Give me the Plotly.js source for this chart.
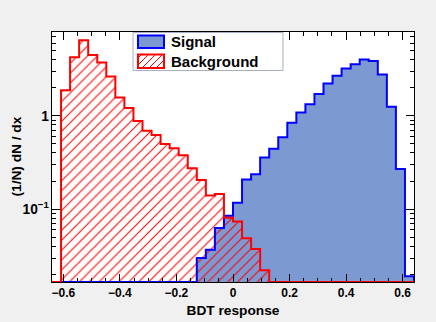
<!DOCTYPE html>
<html>
<head>
<meta charset="utf-8">
<script src="https://cdn.plot.ly/plotly-3.0.1.min.js"></script>
<style>
  html, body { margin: 0; padding: 0; background: #f0f0f0; }
  #plot { width: 436px; height: 322px; }
</style>
</head>
<body>
<div id="plot"></div>
<script>
// histogram binning of the BDT response (40 bins)
let binStart = -0.64;
let binWidth = 0.032;
let nBins = 40;

// normalised bin contents (1/N) dN/dx
let signalValues = [
    0, 0, 0, 0, 0, 0, 0, 0, 0, 0, 0, 0, 0, 0, 0, 0,
    0.0300, 0.0367, 0.0627, 0.0848, 0.117, 0.208, 0.237, 0.357,
    0.444, 0.588, 0.842, 1.087, 1.33, 1.71, 2.22, 2.68,
    3.21, 3.57, 4.01, 3.87, 2.77, 1.25, 0.270, 0.0191
];
let backgroundValues = [
    0, 1.88, 4.24, 6.44, 4.49, 3.72, 2.64, 1.57,
    1.21, 0.878, 0.691, 0.622, 0.499, 0.449, 0.377, 0.274,
    0.206, 0.140, 0.145, 0.081, 0.0737, 0.0488, 0.0375, 0.0222,
    0, 0, 0, 0, 0, 0, 0, 0, 0, 0, 0, 0, 0, 0, 0, 0
];
let seriesNames = ["Signal", "Background"];
let xTitle = "BDT response";
let yTitle = "(1/N) dN / dx";

// axis limits
let yMin = 0.0166;
let yMax = 7.9;

// bin centres and edges
let centres = [];
let edges = [];
for (var i = 0; i < nBins; i++) {
    centres.push(binStart + (i + 0.5) * binWidth);
}
for (var i = 0; i <= nBins; i++) {
    edges.push(binStart + i * binWidth);
}

// step outline (ROOT style) : empty bins sit on the bottom of the frame
function stepTrace(values, color) {
    let xs = [edges[0]];
    let ys = [yMin];
    for (var i = 0; i < values.length; i++) {
        xs.push(edges[i]);
        ys.push(values[i] > 0 ? values[i] : yMin);
    }
    xs.push(edges[nBins]);
    ys.push(yMin);
    return {
        x: xs, y: ys,
        type: "scatter", mode: "lines",
        line: { color: color, width: 2, shape: "hv" },
        hoverinfo: "skip", showlegend: false
    };
}

let signalFill = {
    x: centres, y: signalValues, width: binWidth,
    type: "bar", name: seriesNames[0],
    marker: { color: "#7d99d1", line: { width: 0 } },
    showlegend: false
};

let backgroundFill = {
    x: centres, y: backgroundValues, width: binWidth,
    type: "bar", name: seriesNames[1],
    marker: {
        color: "#ff0000",
        line: { width: 0 },
        pattern: { shape: "/", size: 7, solidity: 0.15, fillmode: "replace" }
    },
    showlegend: false
};

let data = [signalFill, backgroundFill, stepTrace(signalValues, "#0000ff"), stepTrace(backgroundValues, "#ff0000")];

// legend drawn by hand, positions in pixels converted to paper units
let plotL = 52, plotR = 414, plotT = 32, plotB = 282;
function px(x) { return (x - plotL) / (plotR - plotL); }
function py(y) { return (plotB - y) / (plotB - plotT); }

function hatchPath(x0, y0, x1, y1, step) {
    let path = "";
    for (var c = x0 + y0 + step / 2; c < x1 + y1; c += step) {
        let xa = Math.max(x0, c - y1);
        let xb = Math.min(x1, c - y0);
        if (xb <= xa) continue;
        path += "M" + px(xa) + "," + py(c - xa) + "L" + px(xb) + "," + py(c - xb);
    }
    return path;
}

let boldFont = { family: "Liberation Sans, Arial, sans-serif", weight: "bold", color: "black" };

let shapes = [
    { type: "rect", xref: "paper", yref: "paper", x0: px(133), x1: px(283), y0: py(70.5), y1: py(32.5),
      fillcolor: "white", line: { color: "#a8afc4", width: 1 } },
    { type: "rect", xref: "paper", yref: "paper", x0: px(138), x1: px(164), y0: py(48), y1: py(35.5),
      fillcolor: "#7d99d1", line: { color: "#0000ff", width: 2 } },
    { type: "path", xref: "paper", yref: "paper", path: hatchPath(138, 54.5, 164, 68, 7),
      line: { color: "#ff0000", width: 1 } },
    { type: "rect", xref: "paper", yref: "paper", x0: px(138), x1: px(164), y0: py(68), y1: py(54.5),
      line: { color: "#ff0000", width: 2 } }
];

let annotations = [
    { xref: "paper", yref: "paper", x: px(169), y: py(41.7), text: seriesNames[0], showarrow: false,
      xanchor: "left", yanchor: "middle", font: Object.assign({ size: 15 }, boldFont) },
    { xref: "paper", yref: "paper", x: px(169), y: py(61), text: seriesNames[1], showarrow: false,
      xanchor: "left", yanchor: "middle", font: Object.assign({ size: 15 }, boldFont) },
    // y axis title placed by hand, the axis title would sit too far left
    { xref: "paper", yref: "paper", x: px(15.5), y: 0.5, text: yTitle, showarrow: false, textangle: -90,
      xanchor: "center", yanchor: "middle", font: Object.assign({ size: 13.7 }, boldFont) }
];

let layout = {
    width: 436,
    height: 322,
    margin: { l: plotL, r: 436 - plotR, t: plotT, b: 322 - plotB, pad: 0 },
    paper_bgcolor: "#f0f0f0",
    plot_bgcolor: "white",
    barmode: "overlay",
    bargap: 0,
    showlegend: false,
    xaxis: {
        range: [binStart, binStart + nBins * binWidth],
        tick0: 0, dtick: 0.2,
        ticks: "inside", ticklen: 8, tickcolor: "black",
        minor: { dtick: 0.05, ticks: "inside", ticklen: 4, tickcolor: "black" },
        showline: true, linecolor: "black", linewidth: 1, mirror: "allticks",
        showgrid: false, zeroline: false,
        tickfont: Object.assign({ size: 12 }, boldFont),
        title: { text: xTitle, font: Object.assign({ size: 13.7 }, boldFont), standoff: 6 }
    },
    yaxis: {
        type: "log",
        range: [Math.log10(yMin), Math.log10(yMax)],
        dtick: 1, exponentformat: "power",
        ticks: "inside", ticklen: 8, tickcolor: "black",
        minor: { dtick: "D1", ticks: "inside", ticklen: 4, tickcolor: "black" },
        showline: true, linecolor: "black", linewidth: 1, mirror: "allticks",
        showgrid: false, zeroline: false,
        tickfont: Object.assign({ size: 11 }, boldFont)
    },
    shapes: shapes,
    annotations: annotations
};

Plotly.newPlot("plot", data, layout, { displayModeBar: false, staticPlot: true });
</script>
</body>
</html>
